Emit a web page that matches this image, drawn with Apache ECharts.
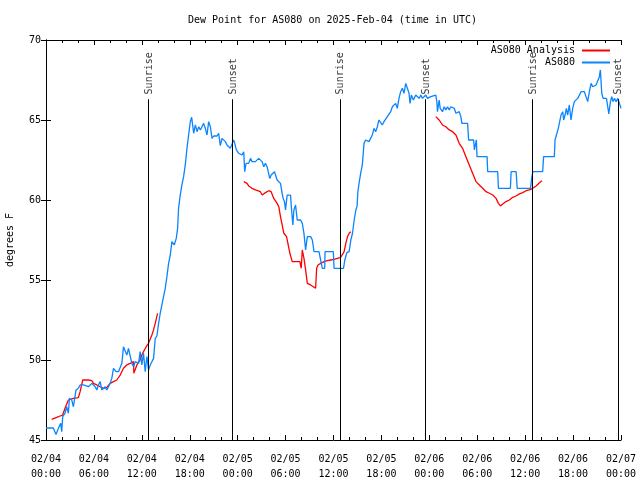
<!DOCTYPE html>
<html><head><meta charset="utf-8">
<script src="https://cdn.jsdelivr.net/npm/echarts@6/dist/echarts.min.js"></script>
<style>html,body{margin:0;padding:0;background:#fff}#c{width:640px;height:480px}</style>
</head><body><div id="c"></div><script>
// hours since 2025-02-04 00:00 UTC
const obsHours=[0.0,0.92,1.25,1.55,1.84,1.97,2.09,2.38,2.59,2.8,2.93,3.22,3.43,3.76,4.06,4.27,4.69,5.31,5.73,6.15,6.36,6.57,6.78,6.99,7.19,7.4,7.61,7.82,8.03,8.24,8.45,8.78,9.08,9.29,9.5,9.7,9.91,10.12,10.33,10.54,10.75,10.96,11.17,11.38,11.59,11.79,12.0,12.21,12.42,12.63,12.84,13.05,13.26,13.47,13.68,13.89,14.1,14.3,14.51,14.72,14.93,15.14,15.35,15.56,15.77,16.06,16.31,16.48,16.6,16.81,17.02,17.23,17.44,17.65,17.86,18.07,18.24,18.49,18.7,18.91,19.12,19.33,19.53,19.74,19.95,20.16,20.37,20.58,20.79,21.0,21.21,21.42,21.62,21.83,22.04,22.25,22.46,22.66,22.87,23.08,23.29,23.5,23.63,23.84,24.13,24.34,24.55,24.76,24.88,25.05,25.17,25.38,25.6,25.8,26.01,26.22,26.43,26.64,26.85,27.06,27.27,27.48,27.68,27.89,28.02,28.19,28.4,28.61,28.82,28.94,29.15,29.36,29.57,29.7,29.86,29.99,30.2,30.41,30.62,30.75,30.91,31.04,31.25,31.46,31.88,32.09,32.3,32.51,32.72,33.14,33.35,33.56,34.18,34.39,34.6,34.9,34.94,35.98,36.07,37.25,37.42,37.67,37.96,38.17,38.38,38.59,38.8,38.95,39.05,39.2,39.4,39.61,39.82,40.02,40.23,40.44,40.65,40.86,41.07,41.28,41.49,41.69,41.9,42.11,42.32,42.53,42.74,42.95,43.16,43.37,43.58,43.78,43.99,44.2,44.41,44.62,44.83,45.04,45.25,45.46,45.58,45.75,46.0,46.3,46.51,46.72,46.93,47.14,47.35,47.56,47.77,47.97,48.18,48.39,48.81,48.94,49.02,49.23,49.36,49.53,49.65,49.86,50.07,50.28,50.49,50.7,50.91,51.12,51.33,51.54,51.74,51.95,52.08,52.79,52.92,53.55,53.64,53.76,53.89,53.97,55.23,55.31,56.56,56.65,58.15,58.24,58.87,59.0,60.67,60.84,60.97,62.19,62.31,63.65,63.74,63.99,64.15,64.32,64.49,64.7,64.82,64.99,65.16,65.32,65.53,65.74,65.95,66.16,66.37,66.58,66.79,67.0,67.2,67.41,67.62,67.83,68.04,68.25,68.46,68.67,68.88,69.08,69.29,69.42,69.59,69.76,70.18,70.34,70.47,70.68,70.84,71.01,71.18,71.39,71.6,71.81,72.0];
const obsDew=[45.75,45.75,45.35,45.73,46.04,45.52,46.46,46.67,47.08,46.67,47.6,47.5,47.08,48.13,48.23,48.44,48.44,48.33,48.54,48.33,48.13,48.44,48.65,48.13,48.23,48.33,48.13,48.33,48.54,48.85,49.48,49.27,49.27,49.38,49.79,50.83,50.94,50.31,50.73,50.63,49.79,49.58,49.9,50.0,49.79,50.52,49.69,50.42,49.27,50.21,49.38,49.69,49.58,50.1,51.35,51.5,52.29,52.92,53.44,53.54,54.48,55.21,56.04,56.56,57.4,57.19,57.6,58.23,59.48,60.31,60.94,61.46,62.19,63.23,64.06,64.9,65.17,64.17,64.69,64.27,64.58,64.38,64.58,64.79,64.48,64.06,64.9,64.58,63.85,64.0,63.9,64.0,64.17,63.4,63.85,63.85,63.65,63.44,63.33,63.23,63.33,63.75,63.54,63.13,62.92,63.02,62.81,63.02,61.77,62.29,62.4,62.29,62.6,62.4,62.4,62.4,62.4,62.6,62.6,62.4,62.08,62.29,62.08,62.19,61.35,61.56,61.67,61.77,61.88,61.25,61.15,61.04,60.42,60.1,59.9,59.38,60.31,60.42,60.31,59.38,58.44,59.38,59.69,58.75,58.75,58.54,57.92,56.88,57.71,57.71,57.5,56.77,56.77,56.25,55.73,55.73,56.77,56.77,55.73,55.73,56.25,56.71,56.77,57.5,57.92,58.75,59.38,59.6,60.5,61.04,61.67,62.19,63.54,63.75,63.85,63.65,63.85,64.06,64.48,64.27,64.58,65.0,65.1,64.69,64.9,65.0,65.21,65.31,65.52,65.83,65.94,66.04,65.73,66.35,66.77,66.98,66.67,67.29,66.98,66.67,66.04,66.56,66.25,66.56,66.46,66.35,66.56,66.35,66.46,66.56,66.35,66.25,66.46,66.56,66.56,66.15,65.52,66.25,65.73,65.83,65.52,65.83,65.63,65.83,65.63,65.83,65.83,65.73,65.42,65.42,65.52,65.21,64.79,64.79,63.75,63.75,63.13,63.02,63.75,62.71,62.71,61.77,61.77,60.73,60.73,61.77,61.77,60.73,60.73,61.46,61.77,61.77,62.71,62.71,63.75,63.75,64.48,64.9,65.31,65.52,65.0,65.31,65.73,65.31,65.94,65.0,65.73,66.15,66.04,66.35,66.25,66.77,66.88,66.77,66.46,66.15,66.77,67.29,67.08,66.98,67.19,67.29,67.71,68.13,66.67,66.35,66.35,65.83,65.38,66.15,66.46,66.15,66.35,66.15,66.35,66.04,65.73];
const anaHours=[0.71,1.34,1.76,2.09,2.38,2.8,3.43,4.06,4.27,4.6,5.31,5.73,5.94,6.36,6.78,7.19,7.61,8.03,8.45,8.86,9.29,9.7,10.12,10.54,10.96,11.0,11.38,11.79,12.0,12.21,12.55,12.84,13.05,13.26,13.47,13.68,13.97,
 18.0,
 24.76,25.17,25.38,25.8,26.22,26.85,27.06,27.48,27.89,28.19,28.52,28.94,29.15,29.36,29.57,29.78,30.12,30.29,30.54,30.83,31.25,31.79,31.96,32.09,32.3,32.51,32.72,33.14,33.47,33.76,33.89,34.06,34.39,34.81,35.23,35.65,36.07,36.49,36.91,37.12,37.33,37.54,37.75,37.96,38.17,
 43.0,
 48.81,49.23,49.65,50.07,50.49,50.91,51.33,51.74,52.16,52.58,53.0,53.42,53.84,54.26,54.68,55.1,55.52,55.94,56.36,56.65,56.9,57.19,57.6,58.02,58.44,58.86,59.28,59.7,60.11,60.53,60.95,61.37,61.79,62.1];
const anaDew=[46.29,46.42,46.5,46.56,46.98,47.5,47.6,47.65,48.02,48.75,48.75,48.71,48.54,48.44,48.33,48.23,48.29,48.54,48.65,48.75,49.06,49.48,49.69,49.79,49.9,49.17,49.69,50.0,50.31,50.52,50.83,51.04,51.15,51.56,51.88,52.29,52.92,
 null,
 61.15,61.04,60.88,60.73,60.63,60.52,60.31,60.46,60.58,60.52,60.1,59.79,59.58,58.96,58.44,57.92,57.71,57.29,56.67,56.15,56.15,56.15,55.73,56.88,56.35,55.63,54.79,54.69,54.58,54.48,55.73,55.94,56.04,56.15,56.21,56.25,56.29,56.35,56.42,56.46,56.77,57.29,57.71,57.92,58.02,
 null,
 65.21,65.0,64.69,64.58,64.38,64.27,64.06,63.54,63.23,62.71,62.19,61.67,61.15,60.94,60.73,60.52,60.42,60.31,60.1,59.79,59.63,59.75,59.9,60.0,60.17,60.25,60.38,60.46,60.58,60.63,60.73,60.88,61.08,61.2];
const sunNames=['Sunrise','Sunset','Sunrise','Sunset','Sunrise','Sunset'];
const sunHours=[12.8,23.38,36.8,47.47,60.85,71.6];
const yTicks=[45,50,55,60,65,70];

const FONT='DejaVu Sans Mono';
const zip=(a,b)=>a.map((t,i)=>[t,b[i]]);
const pad=n=>(n<10?'0':'')+n;
const xFmt=v=>'02/'+pad(4+Math.floor(v/24))+'\n'+pad(v%24)+':00';

const chart=echarts.init(document.getElementById('c'),null,{renderer:'canvas'});
const axisCommon={
  axisLine:{show:true,lineStyle:{color:'#000',width:1}},
  splitLine:{show:false}
};
chart.setOption({
  animation:false,
  backgroundColor:'#fff',
  title:{text:'Dew Point for AS080 on 2025-Feb-04 (time in UTC)',left:183,top:10,
    textStyle:{fontFamily:FONT,fontSize:10,fontWeight:'normal',color:'#000'}},
  grid:{left:46,right:19,top:40,bottom:40,containLabel:false,outerBoundsMode:'none'},
  legend:{orient:'vertical',right:25,top:40,align:'right',itemWidth:28,itemHeight:2,itemGap:1,
    icon:'rect',data:['AS080 Analysis','AS080'],
    textStyle:{fontFamily:FONT,fontSize:10,color:'#000',lineHeight:11,padding:[0,2,0,0]}},
  xAxis:[
    Object.assign({type:'value',min:0,max:72,interval:6,position:'bottom',
      axisTick:{show:true,inside:true,length:5,lineStyle:{color:'#000'}},
      minorTick:{show:true,splitNumber:3,length:3,lineStyle:{color:'#000'}},
      axisLabel:{formatter:xFmt,fontFamily:FONT,fontSize:10,color:'#000',lineHeight:15,margin:12}},axisCommon),
    Object.assign({type:'value',min:0,max:72,interval:6,position:'top',
      axisTick:{show:true,inside:true,length:5,lineStyle:{color:'#000'}},
      minorTick:{show:true,splitNumber:3,length:3,lineStyle:{color:'#000'}},
      axisLabel:{show:false}},axisCommon)
  ],
  yAxis:[
    Object.assign({type:'value',min:yTicks[0],max:yTicks[yTicks.length-1],interval:5,position:'left',
      name:'degrees F',nameLocation:'middle',nameGap:31,
      nameTextStyle:{fontFamily:FONT,fontSize:10,color:'#000'},
      axisTick:{show:true,inside:true,length:5,lineStyle:{color:'#000'}},
      axisLabel:{fontFamily:FONT,fontSize:10,color:'#000',margin:5}},axisCommon),
    Object.assign({type:'value',min:yTicks[0],max:yTicks[yTicks.length-1],interval:5,position:'right',
      axisTick:{show:true,inside:true,length:5,lineStyle:{color:'#000'}},
      axisLabel:{show:false}},axisCommon)
  ],
  series:[
    {name:'AS080 Analysis',type:'line',data:zip(anaHours,anaDew),showSymbol:false,symbol:'none',
      connectNulls:false,color:'#ff0000',lineStyle:{color:'#ff0000',width:1.3},z:2},
    {name:'AS080',type:'line',data:zip(obsHours,obsDew),showSymbol:false,symbol:'none',
      color:'#0a84ff',lineStyle:{color:'#0a84ff',width:1.3},z:3},
    {name:'sun',type:'scatter',symbolSize:0,z:4,
      data:sunHours.map((h,i)=>({value:[h,66.6],name:sunNames[i]})),
      label:{show:true,position:[1,0],rotate:90,align:'left',verticalAlign:'middle',
        formatter:p=>p.name,fontFamily:FONT,fontSize:10,color:'#000'},
      markLine:{silent:true,symbol:['none','none'],label:{show:false},
        lineStyle:{color:'#000',width:1,type:'solid'},
        data:sunHours.map(h=>[{coord:[h,45]},{coord:[h,66.3]}])}}
  ]
});
</script></body></html>
